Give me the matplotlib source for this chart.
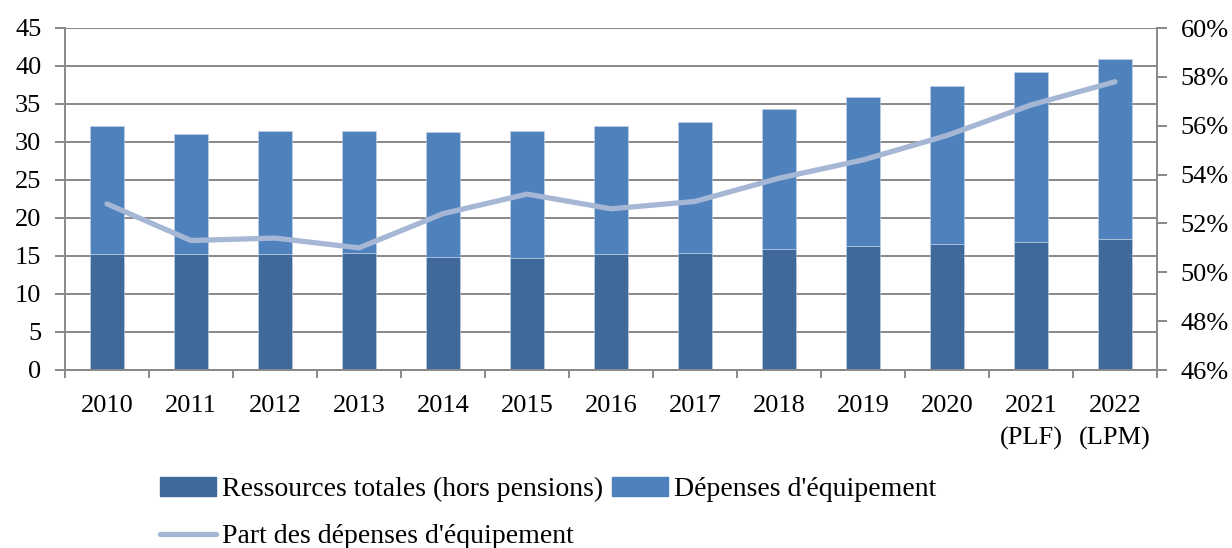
from matplotlib import pyplot as plt
from matplotlib.lines import Line2D
from matplotlib.patches import Patch
import numpy as np

years = ["2010", "2011", "2012", "2013", "2014", "2015", "2016", "2017",
         "2018", "2019", "2020", "2021\n(PLF)", "2022\n(LPM)"]
ressources = [15.2, 15.2, 15.2, 15.35, 14.9, 14.7, 15.2, 15.35, 15.9, 16.3, 16.6, 16.9, 17.3]
total = [32.1, 31.1, 31.4, 31.4, 31.3, 31.4, 32.1, 32.6, 34.3, 35.9, 37.4, 39.2, 40.9]
equipement = [t - r for t, r in zip(total, ressources)]
part = [52.8, 51.3, 51.4, 51.0, 52.4, 53.2, 52.6, 52.9, 53.85, 54.6, 55.6, 56.85, 57.8]

dark = "#40699B"
light = "#4F81BD"
line_c = "#A5B7D5"
grey = "#888888"

plt.rcParams['font.family'] = ['Liberation Serif', 'DejaVu Serif']
plt.rcParams['font.size'] = 19

fig = plt.figure(figsize=(12.32, 5.48), dpi=100)
ax = fig.add_axes([65/1232, 1 - 370/548, (1157-65)/1232, (370-28)/548])
x = np.arange(len(years))

ax.bar(x, ressources, 0.4, color=dark, edgecolor="#C6D3E6", linewidth=0.4, zorder=2)
ax.bar(x, equipement, 0.4, bottom=ressources, color=light, edgecolor="#C6D3E6",
       linewidth=0.4, zorder=2)

ax.set_xlim(-0.5, len(years) - 0.5)
ax.set_ylim(0, 45)
ax.set_yticks(range(0, 46, 5))
ax.yaxis.grid(True, color=grey, linewidth=1.4, zorder=0)
ax.set_axisbelow(True)
ax.set_xticks(x)
ax.set_xticklabels(years, linespacing=1.55)
ax.set_xticks(np.arange(-0.5, len(years)), minor=True)
ax.tick_params(axis='x', which='major', length=0, pad=18)
ax.tick_params(axis='x', which='minor', length=6, width=1.4, color=grey)
ax.tick_params(axis='y', length=7, width=1.4, color=grey, pad=10)
for s in ["top", "right"]:
    ax.spines[s].set_visible(False)
for s in ["left", "bottom"]:
    ax.spines[s].set_color(grey)
    ax.spines[s].set_linewidth(1.4)

ax2 = ax.twinx()
ax2.plot(x, part, color=line_c, linewidth=3.8, solid_capstyle='round', zorder=3)
ax2.set_ylim(46, 60)
ax2.set_yticks(range(46, 61, 2))
ax2.set_yticklabels([f"{v}%" for v in range(46, 61, 2)])
ax2.tick_params(axis='y', length=7, width=1.4, color=grey, pad=10)
for s in ["top", "left", "bottom"]:
    ax2.spines[s].set_visible(False)
ax2.spines["right"].set_color(grey)
ax2.spines["right"].set_linewidth(1.4)

handles = [Patch(color=dark), Line2D([], [], color=line_c, linewidth=3.8, solid_capstyle='round'),
           Patch(color=light)]
labels = ["Ressources totales (hors pensions)", "Part des dépenses d'équipement",
          "Dépenses d'équipement"]
fig.legend(handles, labels, ncol=2, loc='upper left', bbox_to_anchor=(160/1232, 1 - 477/548),
           frameon=False, borderpad=0, borderaxespad=0, handlelength=2.0,
           handleheight=0.65, handletextpad=0.25, columnspacing=0.3, labelspacing=0.8,
           fontsize=20)

fig.savefig("out.png", dpi=100)
